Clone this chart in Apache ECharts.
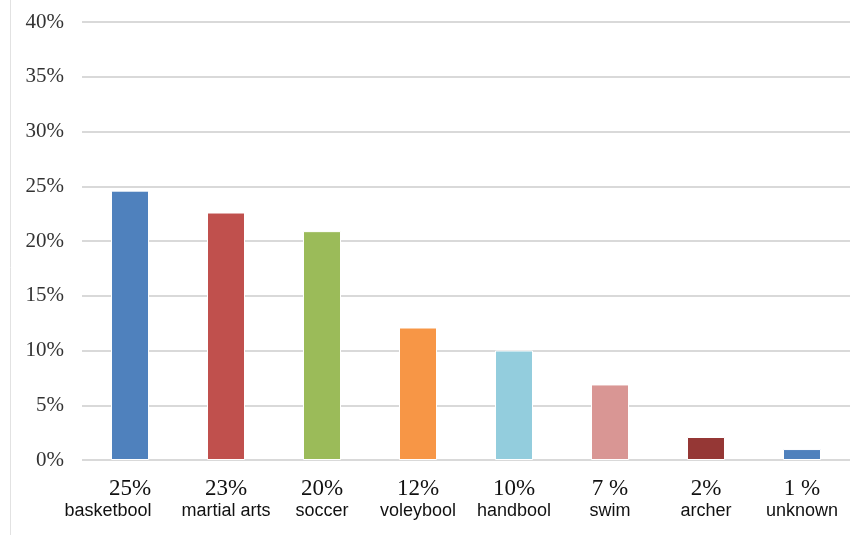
<!DOCTYPE html>
<html>
<head>
<meta charset="utf-8">
<script src="https://cdn.jsdelivr.net/npm/echarts@6/dist/echarts.min.js"></script>
<style>
  html, body { margin: 0; padding: 0; background: #fff; }
  #chart { width: 858px; height: 535px; }
</style>
</head>
<body>
<div id="chart"></div>
<script>
// sport categories and shares (%)
const sports = ['basketbool', 'martial arts', 'soccer', 'voleybool', 'handbool', 'swim', 'archer', 'unknown'];
const shares = [24.6, 22.6, 20.9, 12.1, 10.0, 6.9, 2.1, 1.0];
const shareLabels = ['25%', '23%', '20%', '12%', '10%', '7 %', '2%', '1 %'];
const barColors = ['#4F81BD', '#C0504D', '#9BBB59', '#F79646', '#93CDDD', '#D99694', '#953735', '#4F81BD'];

const chart = echarts.init(document.getElementById('chart'));

chart.setOption({
    backgroundColor: '#fff',
    animation: false,
    graphic: [{
        type: 'line',
        shape: { x1: 10.5, y1: 0, x2: 10.5, y2: 535 },
        style: { stroke: '#e2e2e2', lineWidth: 1 }
    }],
    grid: { left: 82, right: 8, top: 22, bottom: 75, containLabel: false },
    xAxis: {
        type: 'category',
        data: sports,
        axisLine: { show: false },
        axisTick: { show: false },
        axisLabel: {
            interval: 0,
            margin: 17,
            formatter: (v, i) => '{p|' + shareLabels[i] + '}\n{' + (i === 0 ? 'n0' : 'n') + '|' + v + '}',
            rich: {
                p: { fontFamily: 'Liberation Serif', fontSize: 23, color: '#111', lineHeight: 23 },
                n: { fontFamily: 'Liberation Sans', fontSize: 18, color: '#111', lineHeight: 22 },
                n0: { fontFamily: 'Liberation Sans', fontSize: 18, color: '#111', lineHeight: 22, padding: [0, 44, 0, 0] }
            }
        }
    },
    yAxis: {
        type: 'value',
        min: 0,
        max: 40,
        interval: 5,
        axisLine: { show: false },
        axisTick: { show: false },
        splitLine: { lineStyle: { color: '#d9d9d9', width: 2 } },
        axisLabel: {
            margin: 18,
            formatter: '{value}%',
            fontFamily: 'Liberation Serif',
            fontSize: 21,
            color: '#333'
        }
    },
    series: [{
        type: 'bar',
        data: shares.map((v, i) => ({ value: v, itemStyle: { color: barColors[i] } })),
        barWidth: 38,
        itemStyle: { borderColor: '#fff', borderWidth: 1 }
    }]
});
</script>
</body>
</html>
